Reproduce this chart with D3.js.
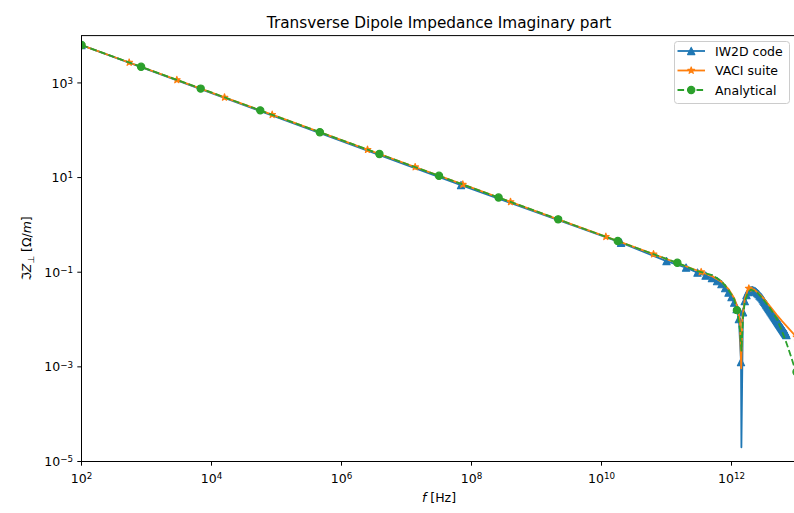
<!DOCTYPE html>
<html>
<head>
<meta charset="utf-8">
<script src="https://cdn.jsdelivr.net/npm/d3@7"></script>
<style>
  body { margin: 0; background: #fff; }
  svg { display: block; }
  text { font-family: "DejaVu Sans", sans-serif; fill: #000; }
</style>
</head>
<body>
<svg id="chart" width="794" height="513"></svg>
<script>
// ---- data -------------------------------------------------------------
const titleText = "Transverse Dipole Impedance Imaginary part";
const seriesNames = ["IW2D code", "VACI suite", "Analytical"];
const xTickValues = [1e2, 1e4, 1e6, 1e8, 1e10, 1e12];
const yTickValues = [1e-5, 1e-3, 1e-1, 1e1, 1e3];

// IW2D code: frequency [Hz] and |Im Z_perp| [Ohm/m]
const iw2dFreq = [
  1e2, 6.9e7, 2e10,
  1e11, 2e11, 3e11, 4e11, 5e11, 6e11, 7e11, 8e11, 9e11, 1e12,
  1.1e12, 1.2e12, 1.3e12, 1.4e12, 1.42e12, 1.5e12, 1.6e12, 1.7e12, 1.8e12, 1.9e12,
  2.0e12, 2.1e12, 2.2e12, 2.3e12, 2.4e12, 2.5e12, 2.6e12, 2.7e12, 2.8e12, 2.9e12,
  3.0e12, 3.1e12, 3.2e12, 3.3e12, 3.4e12, 3.5e12, 3.6e12, 3.7e12, 3.8e12, 3.9e12,
  4.0e12, 4.1e12, 4.2e12, 4.3e12, 4.4e12, 4.5e12, 4.6e12, 4.7e12, 4.8e12, 4.9e12,
  5.0e12, 5.1e12, 5.2e12, 5.3e12, 5.4e12, 5.5e12, 5.6e12, 5.7e12, 5.8e12, 5.9e12,
  6.0e12, 6.1e12, 6.2e12, 6.3e12, 6.4e12, 6.5e12, 6.6e12, 6.7e12, 6.8e12, 6.9e12,
  7.0e12
];
const iw2dZ = [
  6310, 6.95, 0.42,
  0.1716, 0.1251, 0.0980, 0.0847, 0.0750, 0.0648, 0.0560, 0.0461, 0.0370, 0.0297,
  0.0228, 0.0166, 0.0102, 0.00126, 2.0e-5, 0.0143, 0.0245, 0.0328, 0.0379, 0.0408,
  0.0418, 0.0418, 0.0408, 0.0398, 0.0379, 0.0361, 0.0344, 0.0320, 0.0305, 0.0290,
  0.0270, 0.0252, 0.0237, 0.0222, 0.0208, 0.0197, 0.0185, 0.0175, 0.0166, 0.0157,
  0.0149, 0.0142, 0.0135, 0.0129, 0.0123, 0.0117, 0.0112, 0.0108, 0.0103, 0.00985,
  0.00943, 0.00907, 0.00868, 0.00835, 0.00803, 0.00776, 0.00746, 0.00718, 0.00694, 0.00671,
  0.00645, 0.00626, 0.00605, 0.00585, 0.00566, 0.00549, 0.00531, 0.00516, 0.00501, 0.00484,
  0.00470
];
// points drawn without a marker
const iw2dBareFreq = [1.42e12];

// VACI suite
const vaciFreq = [
  1e2, 541.2, 2929, 15849, 85770, 464159, 2.512e6, 1.359e7, 7.356e7, 3.981e8,
  2.154e9, 1.166e10, 6.310e10, 3.415e11,
  5e11, 7e11, 9e11, 1.1e12, 1.25e12, 1.35e12, 1.41e12, 1.47e12, 1.6e12, 1.75e12,
  1.848e12,
  2.2e12, 2.6e12, 3e12, 4e12, 5e12, 6e12, 8e12,
  1e13
];
const vaciZ = [
  6310, 2704, 1158, 496, 213, 91.0, 39.0, 16.7, 7.16, 3.07,
  1.31, 0.563, 0.241, 0.101,
  0.0827, 0.0632, 0.0440, 0.0283, 0.0174, 0.0088, 0.00093, 0.0107, 0.0269, 0.0398,
  0.0455,
  0.0435, 0.0361, 0.0297, 0.0183, 0.0124, 0.00925, 0.00597,
  0.00425
];
const vaciBareFreq = [5e11, 7e11, 9e11, 1.1e12, 1.25e12, 1.35e12, 1.41e12, 1.47e12,
  1.6e12, 1.75e12, 2.2e12, 2.6e12, 3e12, 4e12, 5e12, 6e12, 8e12];

// Analytical
const anaFreq = [
  1e2, 825.4, 6813, 56234, 464159, 3.831e6, 3.162e7, 2.610e8, 2.154e9, 1.778e10,
  1.468e11, 3e11, 5e11, 7e11, 9e11, 1.1e12, 1.2115e12, 1.35e12, 1.42e12, 1.5e12,
  1.6e12, 1.8e12, 2e12, 2.5e12, 3e12, 4e12, 5e12, 6e12, 7e12, 8e12, 9e12, 1e13
];
const anaZ = [
  6310, 2188, 759, 263, 91.0, 31.5, 10.9, 3.79, 1.31, 0.455,
  0.158, 0.105, 0.087, 0.065, 0.042, 0.027, 0.0158, 0.006, 0.0022, 0.0107,
  0.0234, 0.038, 0.043, 0.037, 0.028, 0.0166, 0.0102, 0.0056, 0.0032, 0.00186, 0.00112, 0.00078
];
const anaBareFreq = [3e11, 5e11, 7e11, 9e11, 1.1e12, 1.35e12, 1.42e12, 1.5e12,
  1.6e12, 1.8e12, 2e12, 2.5e12, 3e12, 4e12, 5e12, 6e12, 7e12, 8e12, 9e12];

// ---- layout -----------------------------------------------------------
const plot = { left: 81.5, right: 796.5, top: 35.6, bottom: 461.5 };
const colors = ["#1f77b4", "#ff7f0e", "#2ca02c"];
const fontSize = 12.5;

const svg = d3.select("#chart");
const x = d3.scaleLog().domain([1e2, 1e13]).range([plot.left, plot.right]);
const y = d3.scaleLog().domain([1e-5, 1e4]).range([plot.bottom, plot.top]);

svg.append("defs").append("clipPath").attr("id", "plotClip")
  .append("rect")
  .attr("x", plot.left).attr("y", plot.top)
  .attr("width", plot.right - plot.left).attr("height", plot.bottom - plot.top);

function build(freq, z, bare) {
  const b = new Set(bare);
  return freq.map((f, i) => ({ f, z: z[i], marked: !b.has(f) }));
}
const series = [
  { name: seriesNames[0], data: build(iw2dFreq, iw2dZ, iw2dBareFreq), color: colors[0], marker: "triangle", dash: null },
  { name: seriesNames[1], data: build(vaciFreq, vaciZ, vaciBareFreq), color: colors[1], marker: "star", dash: null },
  { name: seriesNames[2], data: build(anaFreq, anaZ, anaBareFreq), color: colors[2], marker: "circle", dash: "6.6,2.9" }
];

// marker shapes: upward triangle, five-point star, circle
const symbolFor = {
  triangle: () => "M0,-3.6L3.6,3.6L-3.6,3.6Z",
  star: d3.symbol().type(d3.symbolStar).size(14),
  circle: d3.symbol().type(d3.symbolCircle).size(41)
};

// ---- series -----------------------------------------------------------
const plotG = svg.append("g").attr("clip-path", "url(#plotClip)");
const line = d3.line().x(d => x(d.f)).y(d => y(d.z));

series.forEach(s => {
  const g = plotG.append("g");
  g.append("path")
    .datum(s.data)
    .attr("d", line)
    .attr("fill", "none")
    .attr("stroke", s.color)
    .attr("stroke-width", 1.8)
    .attr("stroke-linejoin", "round")
    .attr("stroke-dasharray", s.dash);
  g.selectAll("path.mk")
    .data(s.data.filter(d => d.marked))
    .join("path")
    .attr("class", "mk")
    .attr("d", symbolFor[s.marker])
    .attr("transform", d => `translate(${x(d.f)},${y(d.z)})`)
    .attr("fill", s.color)
    .attr("stroke", s.color)
    .attr("stroke-width", 1.2)
    .attr("stroke-linejoin", "round");
});

// ---- axes -------------------------------------------------------------
function powLabel(sel, v) {
  const e = Math.round(Math.log10(v));
  sel.append("tspan").text("10");
  sel.append("tspan")
    .attr("dy", "-0.45em")
    .attr("font-size", (fontSize * 0.7) + "px")
    .text(e < 0 ? "\u2212" + Math.abs(e) : String(e));
}

const xAxis = svg.append("g");
xTickValues.forEach(v => {
  const px = x(v);
  xAxis.append("line").attr("x1", px).attr("x2", px)
    .attr("y1", plot.bottom).attr("y2", plot.bottom + 4.2)
    .attr("stroke", "#000").attr("stroke-width", 1);
  const t = xAxis.append("text")
    .attr("x", px).attr("y", plot.bottom + 21)
    .attr("text-anchor", "middle").attr("font-size", fontSize + "px");
  powLabel(t, v);
});

const yAxis = svg.append("g");
yTickValues.forEach(v => {
  const py = y(v);
  yAxis.append("line").attr("x1", plot.left - 4.2).attr("x2", plot.left)
    .attr("y1", py).attr("y2", py)
    .attr("stroke", "#000").attr("stroke-width", 1);
  const t = yAxis.append("text")
    .attr("x", plot.left - 8.4).attr("y", py + 4.6)
    .attr("text-anchor", "end").attr("font-size", fontSize + "px");
  powLabel(t, v);
});

// spines
svg.append("rect")
  .attr("x", plot.left).attr("y", plot.top)
  .attr("width", plot.right - plot.left).attr("height", plot.bottom - plot.top)
  .attr("fill", "none").attr("stroke", "#000").attr("stroke-width", 1);

// axis labels
const xl = svg.append("text")
  .attr("x", (plot.left + plot.right) / 2).attr("y", 502)
  .attr("text-anchor", "middle").attr("font-size", fontSize + "px");
xl.append("tspan").attr("font-style", "italic").text("f");
xl.append("tspan").text(" [Hz]");

const yl = svg.append("text")
  .attr("transform", `translate(31,${(plot.top + plot.bottom) / 2}) rotate(-90)`)
  .attr("text-anchor", "middle").attr("font-size", fontSize + "px");
yl.append("tspan").text("\u2111");
yl.append("tspan").attr("font-style", "italic").text("Z");
yl.append("tspan").attr("dy", "3").attr("font-size", (fontSize * 0.7) + "px").text("\u22A5");
yl.append("tspan").attr("dy", "-3").text(" [\u03A9/");
yl.append("tspan").attr("font-style", "italic").text("m");
yl.append("tspan").text("]");

// title
svg.append("text")
  .attr("x", (plot.left + plot.right) / 2).attr("y", 28)
  .attr("text-anchor", "middle").attr("font-size", "15.3px")
  .text(titleText);

// ---- legend -----------------------------------------------------------
const lg = svg.append("g");
lg.append("rect")
  .attr("x", 674.5).attr("y", 41.5).attr("width", 115).attr("height", 62)
  .attr("rx", 3).attr("fill", "#fff").attr("fill-opacity", 0.8)
  .attr("stroke", "#cccccc").attr("stroke-width", 1);
series.forEach((s, i) => {
  const ry = 51 + i * 19.5;
  lg.append("line")
    .attr("x1", 677.5).attr("x2", 705).attr("y1", ry).attr("y2", ry)
    .attr("stroke", s.color).attr("stroke-width", 1.8)
    .attr("stroke-dasharray", s.dash);
  lg.append("path")
    .attr("d", symbolFor[s.marker])
    .attr("transform", `translate(691.2,${ry})`)
    .attr("fill", s.color).attr("stroke", s.color).attr("stroke-width", 1.2)
    .attr("stroke-linejoin", "round");
  lg.append("text")
    .attr("x", 715).attr("y", ry + 4.5)
    .attr("font-size", fontSize + "px")
    .text(s.name);
});
</script>
</body>
</html>
